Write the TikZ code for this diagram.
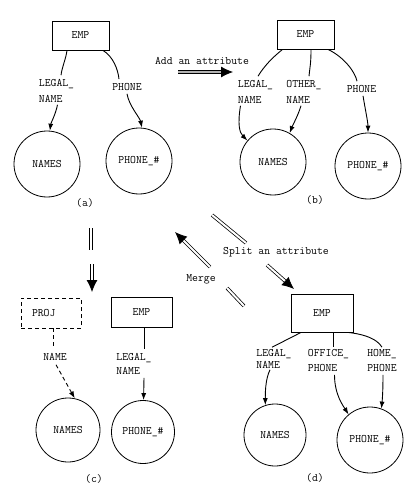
\documentclass[tikz,border=0pt]{standalone}
\usepackage{fontspec}
\usetikzlibrary{arrows.meta}
\begin{document}
\begin{tikzpicture}[x=1pt,y=-1pt,
  every node/.style={font=\ttfamily\fontsize{11.4}{13}\selectfont},
  ent/.style={draw, line width=0.9pt, minimum width=57pt, minimum height=29pt, inner sep=0pt},
  val/.style={draw, circle, line width=0.8pt, minimum size=66pt, inner sep=0pt},
  lbl/.style={inner sep=1pt, align=left},
  link/.style={line width=0.9pt},
  arr/.style={line width=0.9pt, -{Latex[length=7pt,width=5pt]}},
  bigarr/.style={double, double distance=2pt, line width=0.75pt, -{Latex[length=12pt,width=11pt]}},
  shaft/.style={double, double distance=2pt, line width=0.75pt},
]
\useasboundingbox[fill=white] (0,0) rectangle (417,484);

% ---------- panel (a)
\node[ent] (eA) at (80.5,35.5) {EMP};
\node[lbl] (lnA) at (56.5,91) {LEGAL\_\\[3pt]NAME};
\node[lbl] (phA) at (127,87) {PHONE};
\node[val] (nA) at (47,164) {NAMES};
\node[val] (pA) at (139,161) {PHONE\_\#};
\node (capA) at (85,203) {(a)};
\draw[link] ([xshift=-13.5pt]eA.south) .. controls +(-1,8) and +(1,-8) .. ([xshift=4.5pt,yshift=3pt]lnA.north);
\draw[arr] ([xshift=1pt,yshift=-1pt]lnA.south) .. controls +(-2,10) and +(1,-8) .. (nA.85);
\draw[link] ([xshift=22.5pt]eA.south) .. controls +(10,6) and +(-1,-10) .. ([xshift=-8pt,yshift=3pt]phA.north);
\draw[arr] ([xshift=0pt,yshift=-2pt]phA.south) .. controls +(2,12) and +(-2,-10) .. (pA.85);

% ---------- panel (b)
\node[ent] (eB) at (305.5,34.5) {EMP};
\node[lbl] (lnB) at (255.5,92) {LEGAL\_\\[3pt]NAME};
\node[lbl] (onB) at (304,92) {OTHER\_\\[3pt]NAME};
\node[lbl] (phB) at (361.5,89) {PHONE};
\node[val] (nB) at (273,162) {NAMES};
\node[val] (pB) at (368,166) {PHONE\_\#};
\node (capB) at (315,200) {(b)};
\draw[link] ([xshift=-23pt]eB.south) .. controls +(-10,8) and +(6,-10) .. ([xshift=2.5pt,yshift=3pt]lnB.north);
\draw[link] ([xshift=5.5pt]eB.south) .. controls +(0,14) and +(1,-10) .. ([xshift=5pt,yshift=3pt]onB.north);
\draw[link] ([xshift=22.5pt]eB.south) .. controls +(15,7) and +(-2,-10) .. ([xshift=-4.5pt,yshift=3pt]phB.north);
\draw[arr] ([xshift=-15pt,yshift=-1pt]lnB.south) .. controls +(-3,18) and +(-8,-8) .. (nB.140);
\draw[arr] ([xshift=-3pt,yshift=-1pt]onB.south) .. controls +(-3,10) and +(3,-8) .. (nB.60);
\draw[arr] ([xshift=1.5pt,yshift=-2pt]phB.south) .. controls +(2,12) and +(0,-10) .. (pB.90);

% ---------- panel (c)
\node[ent, dashed, dash pattern=on 4pt off 3pt, minimum width=60pt, minimum height=30pt,
      text width=38pt, inner xsep=11pt, align=left] (pjC) at (51,313) {PROJ};
\node[ent, minimum width=61pt, minimum height=30pt] (eC) at (141.5,312) {EMP};
\node[lbl] (nmC) at (55,357) {NAME};
\node[lbl] (lnC) at (134,364) {LEGAL\_\\[1pt]NAME};
\node[val, minimum size=64pt] (nC) at (68,430) {NAMES};
\node[val, minimum size=63pt] (pC) at (143,432) {PHONE\_\#};
\node (capC) at (94,479) {(c)};
\draw[link, dashed, dash pattern=on 4pt off 3pt] ([xshift=2pt]pjC.south) -- ([xshift=-2pt,yshift=3pt]nmC.north);
\draw[arr, dashed, dash pattern=on 4pt off 3pt] ([xshift=1pt,yshift=-3pt]nmC.south) -- (nC.78);
\draw[link] ([xshift=2.5pt]eC.south) -- ([xshift=10pt,yshift=3pt]lnC.north);
\draw[arr] ([xshift=10pt,yshift=-2pt]lnC.south) -- (pC.89);

% ---------- panel (d)
\node[ent, minimum width=62pt, minimum height=38pt] (eD) at (322,313) {EMP};
\node[lbl] (lnD) at (274,359) {LEGAL\_\\[-1pt]NAME};
\node[lbl] (ofD) at (328.5,360.5) {OFFICE\_\\[2pt]PHONE};
\node[lbl] (hmD) at (382,360.5) {HOME\_\\[2pt]PHONE};
\node[val, minimum size=62pt] (nD) at (275,435) {NAMES};
\node[val] (pD) at (370,440) {PHONE\_\#};
\node (capD) at (315,478) {(d)};
\draw[link] ([xshift=-21pt]eD.south) -- ([xshift=-2pt,yshift=1pt]lnD.north);
\draw[link] ([xshift=11pt]eD.south) -- ([xshift=4.5pt,yshift=1pt]ofD.north);
\draw[link] ([xshift=26pt]eD.south) .. controls +(18,2) and +(-5,-8) .. ([xshift=0pt,yshift=1pt]hmD.north);
\draw[arr] ([xshift=-4pt]lnD.south) .. controls +(-5,10) and +(0,-10) .. (nD.108);
\draw[arr] ([xshift=6pt,yshift=-2pt]ofD.south) .. controls +(0,20) and +(-5,-8) .. (pD.130);
\draw[arr] ([xshift=1pt,yshift=-2pt]hmD.south) .. controls +(0,15) and +(1,-10) .. (pD.70);

% ---------- transformation arrows
\coordinate (adS) at (178,72);
\coordinate (adE) at (233,72);
\node (adL) at (202,61) {Add an attribute};
\draw[bigarr, double=gray!60] (adS) -- (adE);

\coordinate (v1) at (91,228);
\coordinate (v2) at (91,250);
\coordinate (v3) at (92,264);
\coordinate (v4) at (92,292);
\draw[shaft] (v1) -- (v2);
\draw[bigarr] (v3) -- (v4);

\coordinate (s1) at (212,215);
\coordinate (s2) at (246,243);
\coordinate (s3) at (267,265);
\coordinate (s4) at (294,289);
\node (spL) at (276,252) {Split an attribute};
\draw[shaft] (s1) -- (s2);
\draw[bigarr] (s3) -- (s4);

\coordinate (m1) at (244,306);
\coordinate (m2) at (227,288);
\coordinate (m3) at (210,267);
\coordinate (m4) at (175,232);
\node (mgL) at (201,279) {Merge};
\draw[shaft] (m1) -- (m2);
\draw[bigarr] (m3) -- (m4);
\end{tikzpicture}
\end{document}
